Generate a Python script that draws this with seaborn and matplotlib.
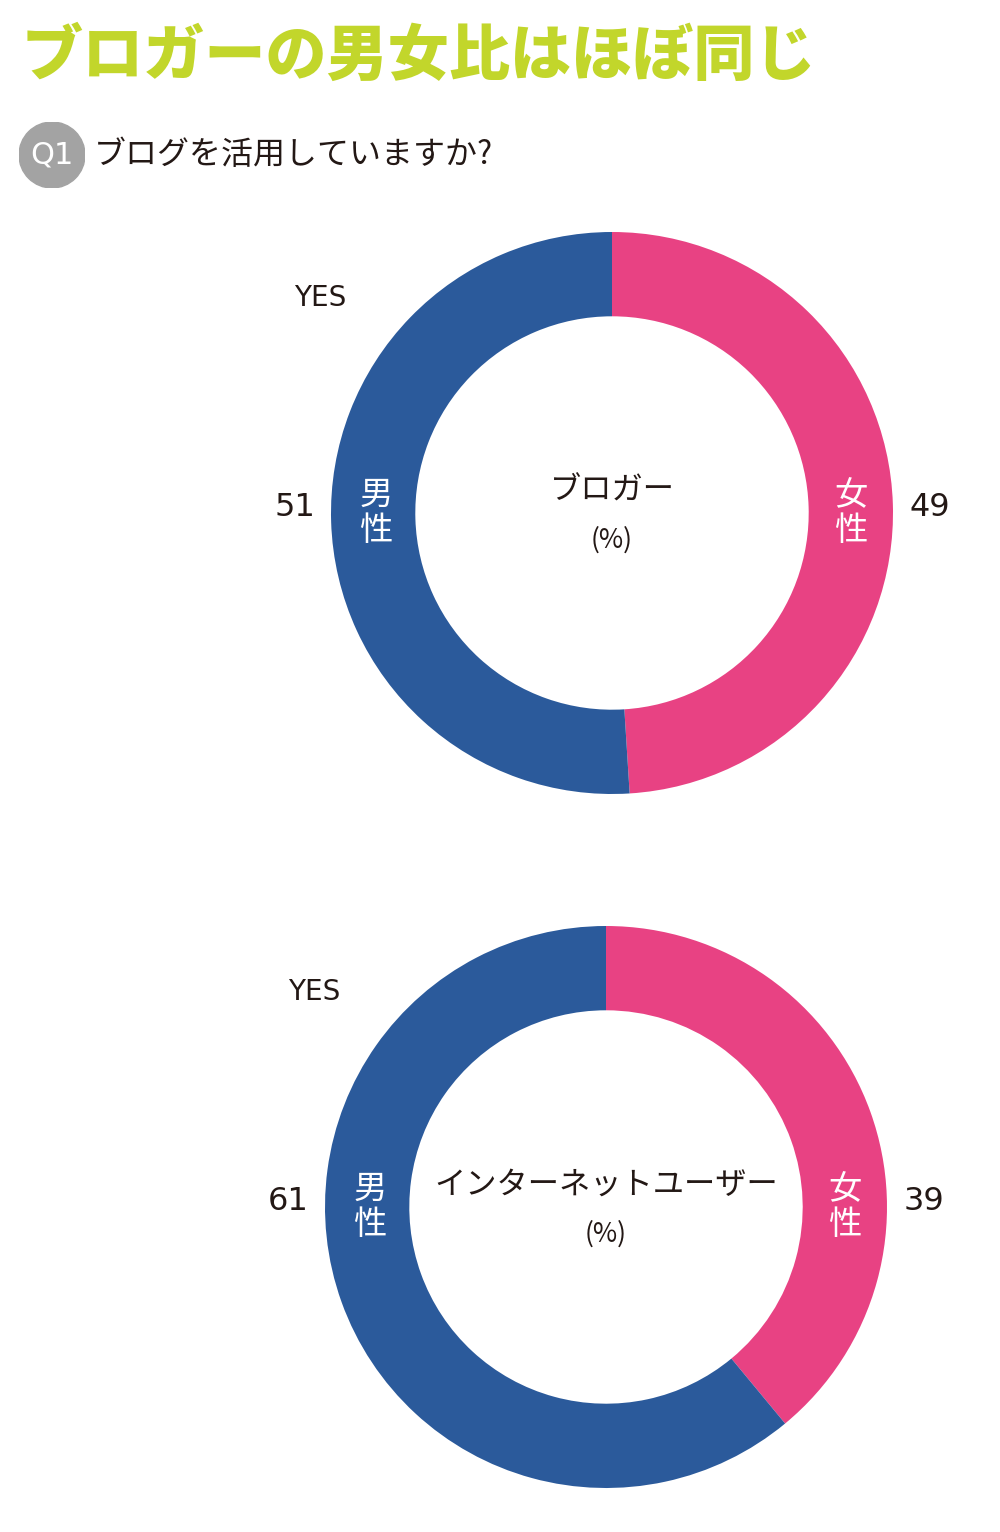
import matplotlib
matplotlib.use("Agg")
import matplotlib.pyplot as plt
import seaborn as sns

# data
segments = ["女性", "男性"]
blogger_share = [49, 51]
internet_share = [39, 61]
chart_titles = ["ブロガー", "インターネットユーザー"]
title = "ブロガーの男女比はほぼ同じ"
question = "ブログを活用していますか?"

sns.set_theme(style="white")
plt.rcParams['font.family'] = ['Noto Sans CJK JP', 'DejaVu Sans']

palette = ["#E84283", "#2B5A9B"]
text_col = "#231815"

W, H = 1000, 1532
fig = plt.figure(figsize=(W / 100, H / 100), dpi=100)
fig.patch.set_facecolor("white")


def px(x, y):
    return x / W, 1 - y / H


# headline and question
fig.text(*px(22, 57), title, fontsize=44, fontweight="black", color="#C2D62B",
         ha="left", va="center")
badge = fig.add_axes([px(19, 0)[0], px(0, 188)[1], 66 / W, 66 / H])
badge.set_xlim(-1, 1)
badge.set_ylim(-1, 1)
badge.add_patch(plt.Circle((0, 0), 1, color="#A3A3A3"))
badge.text(0, 0, "Q1", color="white", fontsize=22, ha="center", va="center",
           family=['DejaVu Sans'])
badge.axis("off")
fig.text(*px(94, 155), question, fontsize=23, color=text_col, ha="left", va="center")


def donut(cx, cy, r, values, center_label):
    ax = fig.add_axes([(cx - r) / W, 1 - (cy + r) / H, 2 * r / W, 2 * r / H])
    ax.pie(values, colors=palette, startangle=90, counterclock=False, radius=1,
           wedgeprops=dict(width=0.3, edgecolor="none"))
    ax.set_xlim(-1, 1)
    ax.set_ylim(-1, 1)
    ax.set_aspect("equal")
    ax.axis("off")
    kw = dict(ha="center", va="center", clip_on=False)
    ax.text(-1.04, 0.765, "YES", fontsize=20, color=text_col,
            family=['DejaVu Sans'], **kw)
    ax.text(-1.13, 0.02, str(values[1]), fontsize=23, color=text_col,
            family=['DejaVu Sans'], **kw)
    ax.text(1.13, 0.02, str(values[0]), fontsize=23, color=text_col,
            family=['DejaVu Sans'], **kw)
    ax.text(-0.84, 0.0, segments[1][0] + "\n" + segments[1][1], fontsize=24,
            color="white", linespacing=1.0, **kw)
    ax.text(0.85, 0.0, segments[0][0] + "\n" + segments[0][1], fontsize=24,
            color="white", linespacing=1.0, **kw)
    ax.text(0, 0.08, center_label, fontsize=22.5, color=text_col, **kw)
    ax.text(0, -0.095, "(%)", fontsize=19, color=text_col, **kw)
    return ax


donut(612, 513, 281, blogger_share, chart_titles[0])
donut(606, 1207, 281, internet_share, chart_titles[1])

fig.savefig("out.png", dpi=100, facecolor="white")
